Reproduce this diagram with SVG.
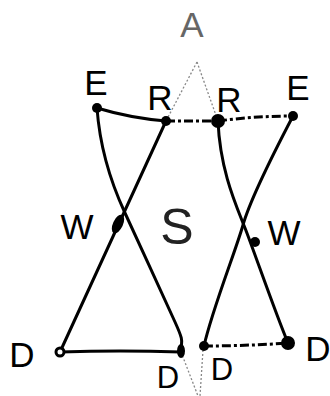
<svg xmlns="http://www.w3.org/2000/svg" width="330" height="396" viewBox="0 0 330 396">
<style>
.lbl{font-family:"Liberation Sans",Arial,sans-serif;font-size:35px;fill:#000;text-anchor:middle}
.sm{font-size:31px}
.ln{fill:none;stroke:#000;stroke-width:3;stroke-linecap:round}
.dash{fill:none;stroke:#000;stroke-width:3;stroke-dasharray:9 3 3 3;stroke-linecap:butt}
.faint{fill:none;stroke:#888;stroke-width:1.3;stroke-dasharray:2 2}
.dot{fill:#000}
</style>
<rect width="330" height="396" fill="#fff"/>
<g id="connectors">
  <path class="faint" d="M197,62 L166,121"/>
  <path class="faint" d="M197,62 L218,121"/>
  <path class="ln" d="M97,108 Q130,118 166,121"/>
  <path class="dash" d="M166,121 L218,121"/>
  <path class="dash" d="M218,121 Q255,116 293,116"/>
  <path class="ln" d="M97,108 C100,150 112,185 125,213 S165,300 175,322 S181,340 181,352"/>
  <path class="ln" d="M166,121 L60,352"/>
  <path class="ln" d="M218,121 C220,170 236,205 245,228 S275,312 288,343"/>
  <path class="ln" d="M293,116 C270,160 250,200 243,225 S212,310 204,346"/>
  <path class="ln" d="M60,352 Q120,350 181,352"/>
  <path class="dash" d="M204,346 Q245,346 288,343"/>
  <path class="faint" d="M181,352 L198,396"/>
  <path class="faint" d="M203,350 L200,396"/>
</g>
<g id="node-A"><text class="lbl" x="192" y="37" style="fill:#666">A</text></g>
<g id="node-E-left"><circle class="dot" cx="97" cy="108" r="5"/><text class="lbl" x="96" y="95">E</text></g>
<g id="node-R-left"><circle class="dot" cx="166" cy="121" r="5"/><text class="lbl" x="160" y="110">R</text></g>
<g id="node-R-right"><circle class="dot" cx="218" cy="121" r="7"/><text class="lbl" x="229" y="112">R</text></g>
<g id="node-E-right"><circle class="dot" cx="293" cy="116" r="5"/><text class="lbl" x="298" y="100">E</text></g>
<g id="node-W-left"><ellipse class="dot" cx="118" cy="224" rx="5" ry="10" transform="rotate(25 118 224)"/><text class="lbl" x="77" y="239">W</text></g>
<g id="node-S"><text class="lbl" x="177" y="244" style="font-size:50px;fill:#222">S</text></g>
<g id="node-W-right"><circle class="dot" cx="255" cy="242" r="5"/><text class="lbl" x="284" y="245">W</text></g>
<g id="node-D-left"><circle cx="60" cy="352" r="4" fill="#fff" stroke="#000" stroke-width="3"/><text class="lbl" x="22" y="367">D</text></g>
<g id="node-D-center-left"><ellipse class="dot" cx="181" cy="351" rx="4" ry="7"/><text class="lbl sm" x="168" y="388">D</text></g>
<g id="node-D-center-right"><circle class="dot" cx="204" cy="346" r="5"/><text class="lbl sm" x="222" y="380">D</text></g>
<g id="node-D-right"><circle cx="288" cy="343" r="6" fill="#000" stroke="#000" stroke-width="2"/><text class="lbl" x="318" y="361">D</text></g>
</svg>
